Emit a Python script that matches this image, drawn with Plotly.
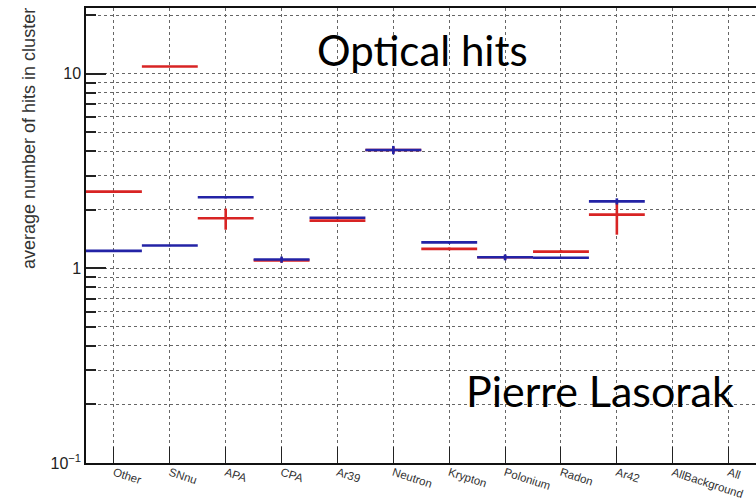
import plotly.graph_objects as go

categories = ["Other", "SNnu", "APA", "CPA", "Ar39", "Neutron", "Krypton",
              "Polonium", "Radon", "Ar42", "AllBackground", "All"]
red_values = [2.48, 10.9, 1.81, 1.10, 1.76, 4.06, 1.26, 1.14, 1.22, 1.89]
red_err_up = [0.02, 0.05, 0.22, 0.03, 0.02, 0.15, 0.02, 0.03, 0.02, 0.30]
red_err_dn = [0.02, 0.05, 0.23, 0.03, 0.02, 0.15, 0.02, 0.03, 0.02, 0.40]
blue_values = [1.23, 1.31, 2.32, 1.11, 1.82, 4.06, 1.36, 1.14, 1.135, 2.21]
blue_err = [0.01, 0.01, 0.03, 0.04, 0.02, 0.20, 0.02, 0.04, 0.01, 0.08]
y_tickvals = [0.1, 1, 10]
y_ticktext = ["10<sup>\u22121</sup>", "1", "10"]
y_minor = [m * d for d in (0.1, 1, 10) for m in range(2, 10) if m * d < 21]

RED = "#d82424"
BLUE = "#2323a6"
xs = list(range(len(categories)))

fig = go.Figure()
fig.add_trace(go.Scatter(
    x=xs[:len(red_values)], y=red_values, mode="markers",
    marker=dict(size=1, color=RED),
    error_x=dict(type="constant", value=0.5, width=0, thickness=2.6, color=RED),
    error_y=dict(type="data", array=red_err_up, arrayminus=red_err_dn,
                 symmetric=False, width=0, thickness=2.6, color=RED),
    showlegend=False, hoverinfo="skip"))
fig.add_trace(go.Scatter(
    x=xs[:len(blue_values)], y=blue_values, mode="markers",
    marker=dict(size=1, color=BLUE),
    error_x=dict(type="constant", value=0.5, width=0, thickness=2.6, color=BLUE),
    error_y=dict(type="data", array=blue_err, width=0, thickness=2.6, color=BLUE),
    showlegend=False, hoverinfo="skip"))

fig.update_layout(
    width=756, height=499,
    margin=dict(l=86, r=0, t=8, b=36),
    paper_bgcolor="white", plot_bgcolor="white",
    font=dict(family="Liberation Sans, Arial, sans-serif", color="#222"),
    xaxis=dict(
        range=[-0.5, 11.49], tickmode="array", tickvals=xs, ticktext=categories,
        tickangle=18, tickfont=dict(size=11.5, color="#333"), automargin=False,
        ticklabelstandoff=-3,
        ticks="inside", ticklen=16, tickwidth=1.2, tickcolor="#222",
        showline=True, linecolor="#111", linewidth=1.5, mirror=True,
        showgrid=True, gridcolor="#666", griddash="dot", gridwidth=1,
        zeroline=False,
    ),
    yaxis=dict(
        type="log", range=[-1, 1.338], automargin=False,
        tickmode="array", tickvals=y_tickvals, ticktext=y_ticktext,
        tickfont=dict(size=16, color="#222"),
        ticks="inside", ticklen=20, tickwidth=1.5, tickcolor="#222",
        showline=True, linecolor="#111", linewidth=1.5, mirror=False,
        showgrid=True, gridcolor="#666", griddash="dot", gridwidth=1,
        zeroline=False,
        minor=dict(tickmode="array", tickvals=y_minor, ticks="inside",
                   ticklen=10, tickwidth=1.5, tickcolor="#222",
                   showgrid=True, gridcolor="#666", griddash="dot", gridwidth=1),
    ),
    annotations=[
        dict(text="average number of hits in cluster", textangle=-90,
             xref="paper", yref="paper", x=(29 - 86) / 670, y=(463 - 139) / 455,
             xanchor="center", yanchor="middle", showarrow=False,
             font=dict(size=18, color="#333")),
        dict(text="Optical hits", xref="paper", yref="paper",
             x=(422 - 86) / 670, y=(463 - 50) / 455,
             xanchor="center", yanchor="middle", showarrow=False,
             font=dict(family="Lato, sans-serif", size=42, color="black")),
        dict(text="Pierre Lasorak", xref="paper", yref="paper",
             x=(600 - 86) / 670, y=(463 - 390) / 455,
             xanchor="center", yanchor="middle", showarrow=False,
             font=dict(family="Lato, sans-serif", size=43, color="black")),
    ],
)

fig.write_html("out.html")
